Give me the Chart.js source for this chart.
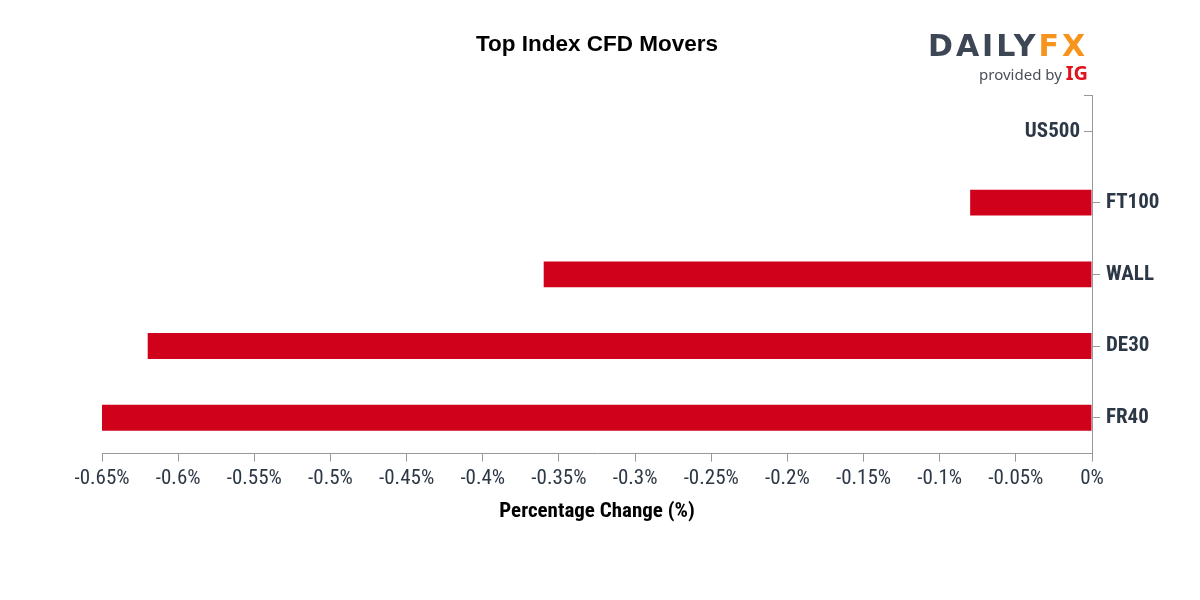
<!DOCTYPE html>
<html>
<head>
<meta charset="utf-8">
<script src="https://cdn.jsdelivr.net/npm/chart.js@4"></script>
<style>
  html, body { margin: 0; padding: 0; background: #fff; }
  #wrap { position: relative; width: 1200px; height: 600px; }
  #title { position: absolute; left: 0; width: 1194px; top: 31px; text-align: center;
           font: bold 22.5px "Liberation Sans", Arial, sans-serif; color: #000; }
  #logo { position: absolute; left: 928px; top: 30px; width: 160px; text-align: right; }
  #logo .brand { font: bold 30px "DejaVu Sans", sans-serif; letter-spacing: 3px; color: #3d4654; line-height: 32px; }
  #logo .brand span { color: #f7941d; }
  #logo .by { font: 15px "Noto Sans", sans-serif; color: #4a4f57; margin-top: -3px; }
  #logo .by b { font: bold 20px "Noto Sans", sans-serif; color: #e1141e; }
  canvas { position: absolute; left: 0; top: 0; }
</style>
</head>
<body>
<div id="wrap">
  <canvas id="moversChart" width="1200" height="600"></canvas>
  <div id="title">Top Index CFD Movers</div>
  <div id="logo">
    <div class="brand">DAILY<span>FX</span></div>
    <div class="by">provided by <b>IG</b></div>
  </div>
</div>
<script>
// values
const categories = ['US500', 'FT100', 'WALL', 'DE30', 'FR40'];
const changes = [0, -0.08, -0.36, -0.62, -0.65];
const xMin = -0.65;
const xMax = 0;
const xStep = 0.05;

const condensed = '"Roboto Condensed", "Liberation Sans Narrow", "DejaVu Sans Condensed", sans-serif';
const axisGrey = '#999999';
const textDark = '#2d3846';

// US500 sits left of the axis in the original, so it is drawn by hand
const leftLabelPlugin = {
  id: 'leftLabel',
  afterDraw(chart) {
    const ctx = chart.ctx;
    const y = chart.scales.y;
    const xAxisX = chart.chartArea.right;
    ctx.save();
    ctx.strokeStyle = axisGrey;
    ctx.lineWidth = 1;
    // top end tick
    ctx.beginPath();
    ctx.moveTo(xAxisX - 8, chart.chartArea.top + 0.5);
    ctx.lineTo(xAxisX, chart.chartArea.top + 0.5);
    ctx.stroke();
    const yy = Math.round(y.getPixelForValue(0)) + 0.5;
    ctx.beginPath();
    ctx.moveTo(xAxisX - 8, yy);
    ctx.lineTo(xAxisX, yy);
    ctx.stroke();
    ctx.fillStyle = textDark;
    ctx.font = 'bold 21px ' + condensed;
    ctx.textAlign = 'right';
    ctx.textBaseline = 'middle';
    ctx.fillText(categories[0], xAxisX - 12, yy);
    ctx.restore();
  }
};

new Chart(document.getElementById('moversChart'), {
  type: 'bar',
  data: {
    labels: categories,
    datasets: [{
      data: changes,
      backgroundColor: '#d0021b',
      borderWidth: 0,
      barPercentage: 0.36,
      categoryPercentage: 1
    }]
  },
  options: {
    indexAxis: 'y',
    responsive: false,
    animation: false,
    layout: { padding: { left: 102, top: 95, right: 0, bottom: 72 } },
    plugins: { legend: { display: false }, tooltip: { enabled: false } },
    scales: {
      x: {
        min: xMin,
        max: xMax,
        ticks: {
          stepSize: xStep,
          color: textDark,
          padding: 5,
          font: { family: condensed, size: 21 },
          callback: v => (+v.toFixed(2)) + '%'
        },
        grid: { drawOnChartArea: false, color: axisGrey, tickLength: 8 },
        border: { color: axisGrey },
        title: {
          display: true,
          text: 'Percentage Change (%)',
          color: '#000',
          padding: { top: 2 },
          font: { family: condensed, size: 21, weight: 'bold' }
        }
      },
      y: {
        position: 'right',
        offset: true,
        afterFit(scale) { scale.width = 108; },
        ticks: {
          color: textDark,
          padding: 6,
          font: { family: condensed, size: 21, weight: 'bold' },
          callback: (v, i) => i === 0 ? '' : categories[i]
        },
        grid: {
          offset: false,
          drawOnChartArea: false,
          tickLength: 8,
          color: ctx => ctx.index === 0 ? 'rgba(0,0,0,0)' : axisGrey
        },
        border: { color: axisGrey }
      }
    }
  },
  plugins: [leftLabelPlugin]
});
</script>
</body>
</html>
